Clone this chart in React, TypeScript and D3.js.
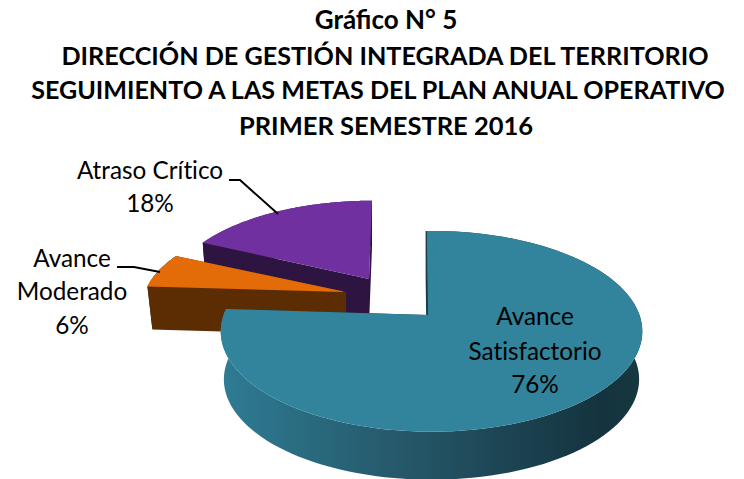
import React from "react";
import * as d3 from "d3";

const categories = ["Avance Satisfactorio", "Avance Moderado", "Atraso Crítico"];
const values = [76, 6, 18];
const topColors = ["#31849B", "#E36C09", "#7030A0"];
const wallColors = ["url(#tealWall)", "#5C2C03", "#2E1440"];
const titleLines = [
  "Gráfico N° 5",
  "DIRECCIÓN DE GESTIÓN INTEGRADA DEL TERRITORIO",
  "SEGUIMIENTO A LAS METAS DEL PLAN ANUAL OPERATIVO",
  "PRIMER SEMESTRE 2016",
];
const titleX = [386, 385, 378, 386];
const titleY = [29, 65, 99, 135];
const titleSize = [26, 25.2, 25.1, 25.5];

// Each slice is exploded: its own apex, rim centre offset, radius and depth on the page
const apexX = [428, 346, 369];
const apexY = [315, 292, 279];
const rimShift = [3.5, 0, 3];
const radii = [208, 201, 200];
const depths = [48, 43, 46];
const xScaleBottom = [0.985, 0.975, 0.98];
const tilts = [0.47, 0.45, 0.455];
const startNudge = [-0.026, 0, 0];
const persp = 0.1626;

const pie = d3.pie<number>().sort(null).value((d) => d);
const arcs = pie(values);

type P = [number, number];
const line = d3.line<P>();

function project(i: number, angle: number, bottom: boolean): P {
  const r = radii[i];
  const u = r * Math.sin(angle);
  const v = -r * Math.cos(angle);
  const s = 1 / (1 - (persp * v) / r);
  const k = bottom ? xScaleBottom[i] : 1;
  return [apexX[i] + rimShift[i] + u * s * k, apexY[i] + tilts[i] * v * s + (bottom ? depths[i] : 0)];
}

function rim(i: number, a0: number, a1: number, bottom: boolean): P[] {
  return d3.range(0, 121).map((n) => project(i, a0 + ((a1 - a0) * n) / 120, bottom));
}

function Slice({ i }: { i: number }) {
  const a0 = arcs[i].startAngle + startNudge[i];
  const a1 = arcs[i].endAngle;
  const apex: P = [apexX[i], apexY[i]];
  const apexB: P = [apexX[i], apexY[i] + depths[i]];
  const top = rim(i, a0, a1, false);
  const bot = rim(i, a0, a1, true);
  const fill = wallColors[i];
  const dark = i === 0 ? "#163A45" : fill;
  const startFace: P[] = [apex, top[0], bot[0], apexB];
  const endFace: P[] = [apex, top[120], bot[120], apexB];
  const outer: P[] = [...top, ...bot.slice().reverse()];
  return (
    <g>
      <path d={line(startFace) + "Z"} fill={dark} stroke={i === 0 ? dark : "none"} strokeWidth={2.5} />
      <path d={line(endFace) + "Z"} fill={dark} />
      <path d={line(outer) + "Z"} fill={fill} />
      <path d={line([apex, ...top]) + "Z"} fill={topColors[i]} />
    </g>
  );
}

const labelFont = "Lato, 'Open Sans', sans-serif";
const labels = [
  { lines: ["Avance", "Satisfactorio", "76%"], x: 535, y: [325, 360, 393] },
  { lines: ["Avance", "Moderado", "6%"], x: 72, y: [267, 300, 334] },
  { lines: ["Atraso Crítico", "18%"], x: 150, y: [179, 212] },
];
const leaders: P[][] = [
  [[117, 267], [134, 267], [160, 272]],
  [[229, 180], [240, 180], [278, 214]],
];

export default function App() {
  return (
    <svg width={744} height={479} style={{ position: "absolute", left: 0, top: 0, display: "block", background: "#fff" }}>
      <defs>
        <linearGradient id="tealWall" gradientUnits="userSpaceOnUse" x1={221} x2={642} y1={0} y2={0}>
          <stop offset="0" stopColor="#2E7C94" />
          <stop offset="0.4" stopColor="#265A6C" />
          <stop offset="0.7" stopColor="#1C4351" />
          <stop offset="0.9" stopColor="#14333E" />
          <stop offset="1" stopColor="#17383F" />
        </linearGradient>
      </defs>
      {titleLines.map((t, i) => (
        <text key={t} x={titleX[i]} y={titleY[i]} textAnchor="middle" fontFamily={labelFont} fontWeight={700} fontSize={titleSize[i]} fill="#000">
          {t}
        </text>
      ))}
      {[2, 1, 0].map((i) => (
        <Slice key={categories[i]} i={i} />
      ))}
      {leaders.map((l, i) => (
        <path key={i} d={line(l) ?? ""} fill="none" stroke="#000" strokeWidth={2} />
      ))}
      {labels.map((l) =>
        l.lines.map((t, j) => (
          <text key={t} x={l.x} y={l.y[j]} textAnchor="middle" fontFamily={labelFont} fontSize={24.3} fill="#000" style={{ fontVariantLigatures: "none" }}>
            {t}
          </text>
        ))
      )}
    </svg>
  );
}
